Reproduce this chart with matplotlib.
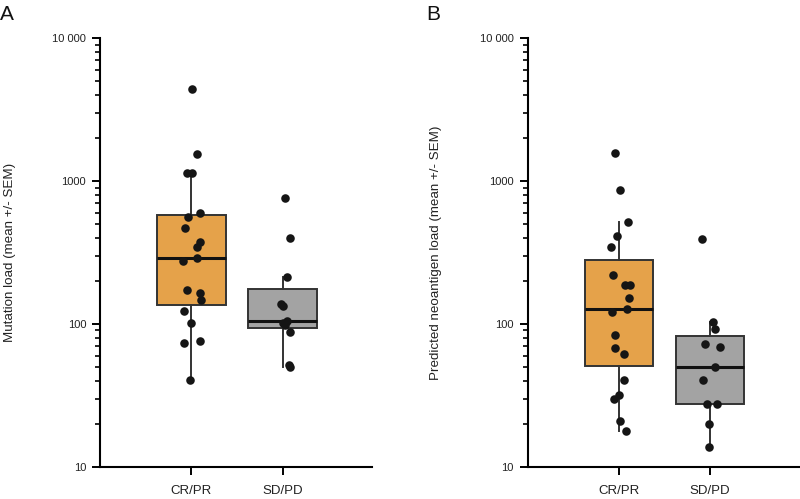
import matplotlib
matplotlib.use("Agg")
import matplotlib.pyplot as plt
import numpy as np
from matplotlib.ticker import FixedLocator, NullFormatter, LogLocator

plt.rcParams['font.family'] = ['Liberation Sans', 'DejaVu Sans']

groups = ["CR/PR", "SD/PD"]

# Panel A: mutation load
mut_cr = [4416, 1541, 1145, 1145, 601, 557, 467, 372, 347, 288, 277, 174, 165, 147, 123, 102, 76, 74, 40.5]
mut_cr_jit = [0.007, 0.058, -0.051, 0.007, 0.094, -0.036, -0.072, 0.094, 0.058, 0.058, -0.091, -0.043, 0.094, 0.105, -0.080, 0.0, 0.101, -0.083, -0.011]
mut_sd = [765, 397, 212, 138, 134, 105, 101, 98, 88, 51.5, 49.6]
mut_sd_jit = [0.025, 0.083, 0.051, -0.018, 0.007, 0.051, 0.0, 0.025, 0.083, 0.072, 0.087]

# Panel B: predicted neoantigen load
neo_cr = [1573, 861, 520, 411, 344, 221, 186, 186, 152, 127, 122, 83.6, 67.4, 61.5, 40.7, 31.8, 29.8, 20.8, 17.8]
neo_cr_jit = [-0.047, 0.007, 0.102, -0.025, -0.091, -0.069, 0.062, 0.120, 0.109, 0.087, -0.076, -0.040, -0.044, 0.051, 0.051, 0.004, -0.055, 0.011, 0.073]
neo_sd = [391, 103, 91.6, 72.3, 69.2, 50.1, 40.7, 27.6, 27.6, 19.8, 13.8]
neo_sd_jit = [-0.091, 0.025, 0.055, -0.058, 0.105, 0.047, -0.076, -0.033, 0.076, -0.011, -0.011]

y_ticks = [10, 100, 1000, 10000]
y_ticklabels = ["10", "100", "1000", "10 000"]
box_colors = ["#E5A24A", "#A3A3A3"]

fig = plt.figure(figsize=(8, 4.99), dpi=100)
axA = fig.add_axes([0.125, 0.0647, 0.34, 0.8585])
axB = fig.add_axes([0.6596, 0.0647, 0.34, 0.8585])

def draw(ax, d1, j1, d2, j2, ylabel, letter, lx):
    data = [d1, d2]
    bp = ax.boxplot(data, positions=[0, 1], widths=0.75, patch_artist=True,
                    showfliers=False, showcaps=False, whis=1.5,
                    medianprops=dict(color="#111111", linewidth=2.2),
                    whiskerprops=dict(color="#333333", linewidth=1.4),
                    boxprops=dict(edgecolor="#333333", linewidth=1.4))
    for patch, c in zip(bp["boxes"], box_colors):
        patch.set_facecolor(c)
    for i, (vals, jit) in enumerate([(d1, j1), (d2, j2)]):
        xs = [i + j for j in jit]
        ax.scatter(xs, vals, s=38, color="#151515", zorder=5, linewidths=0)
    ax.set_yscale("log")
    ax.set_ylim(10, 10000)
    ax.set_xlim(-1, 1.98)
    ax.yaxis.set_major_locator(FixedLocator(y_ticks))
    ax.set_yticklabels(y_ticklabels)
    ax.yaxis.set_minor_locator(LogLocator(base=10, subs=np.arange(2, 10)))
    ax.yaxis.set_minor_formatter(NullFormatter())
    ax.set_xticks([0, 1])
    ax.set_xticklabels(groups, fontsize=9.5, color="#222222")
    ax.tick_params(axis="y", which="major", length=6, width=1.4, labelsize=8, pad=4,
                   labelcolor="#222222")
    ax.tick_params(axis="y", which="minor", length=3.5, width=1.2)
    ax.tick_params(axis="x", length=6, width=1.4, pad=7)
    for s in ["top", "right"]:
        ax.spines[s].set_visible(False)
    for s in ["left", "bottom"]:
        ax.spines[s].set_linewidth(1.5)
    ax.set_ylabel(ylabel, fontsize=9.6, color="#222222")
    ax.yaxis.set_label_coords(lx, 0.5)
    fig.text(letter[1], letter[2], letter[0], fontsize=15, va="top", ha="left",
             color="#111111")

draw(axA, mut_cr, mut_cr_jit, mut_sd, mut_sd_jit,
     "Mutation load (mean +/- SEM)", ("A", 0.0, 0.99), -0.31)
draw(axB, neo_cr, neo_cr_jit, neo_sd, neo_sd_jit,
     "Predicted neoantigen load (mean +/- SEM)", ("B", 0.533, 0.99), -0.315)

fig.savefig("out.png", dpi=100)
